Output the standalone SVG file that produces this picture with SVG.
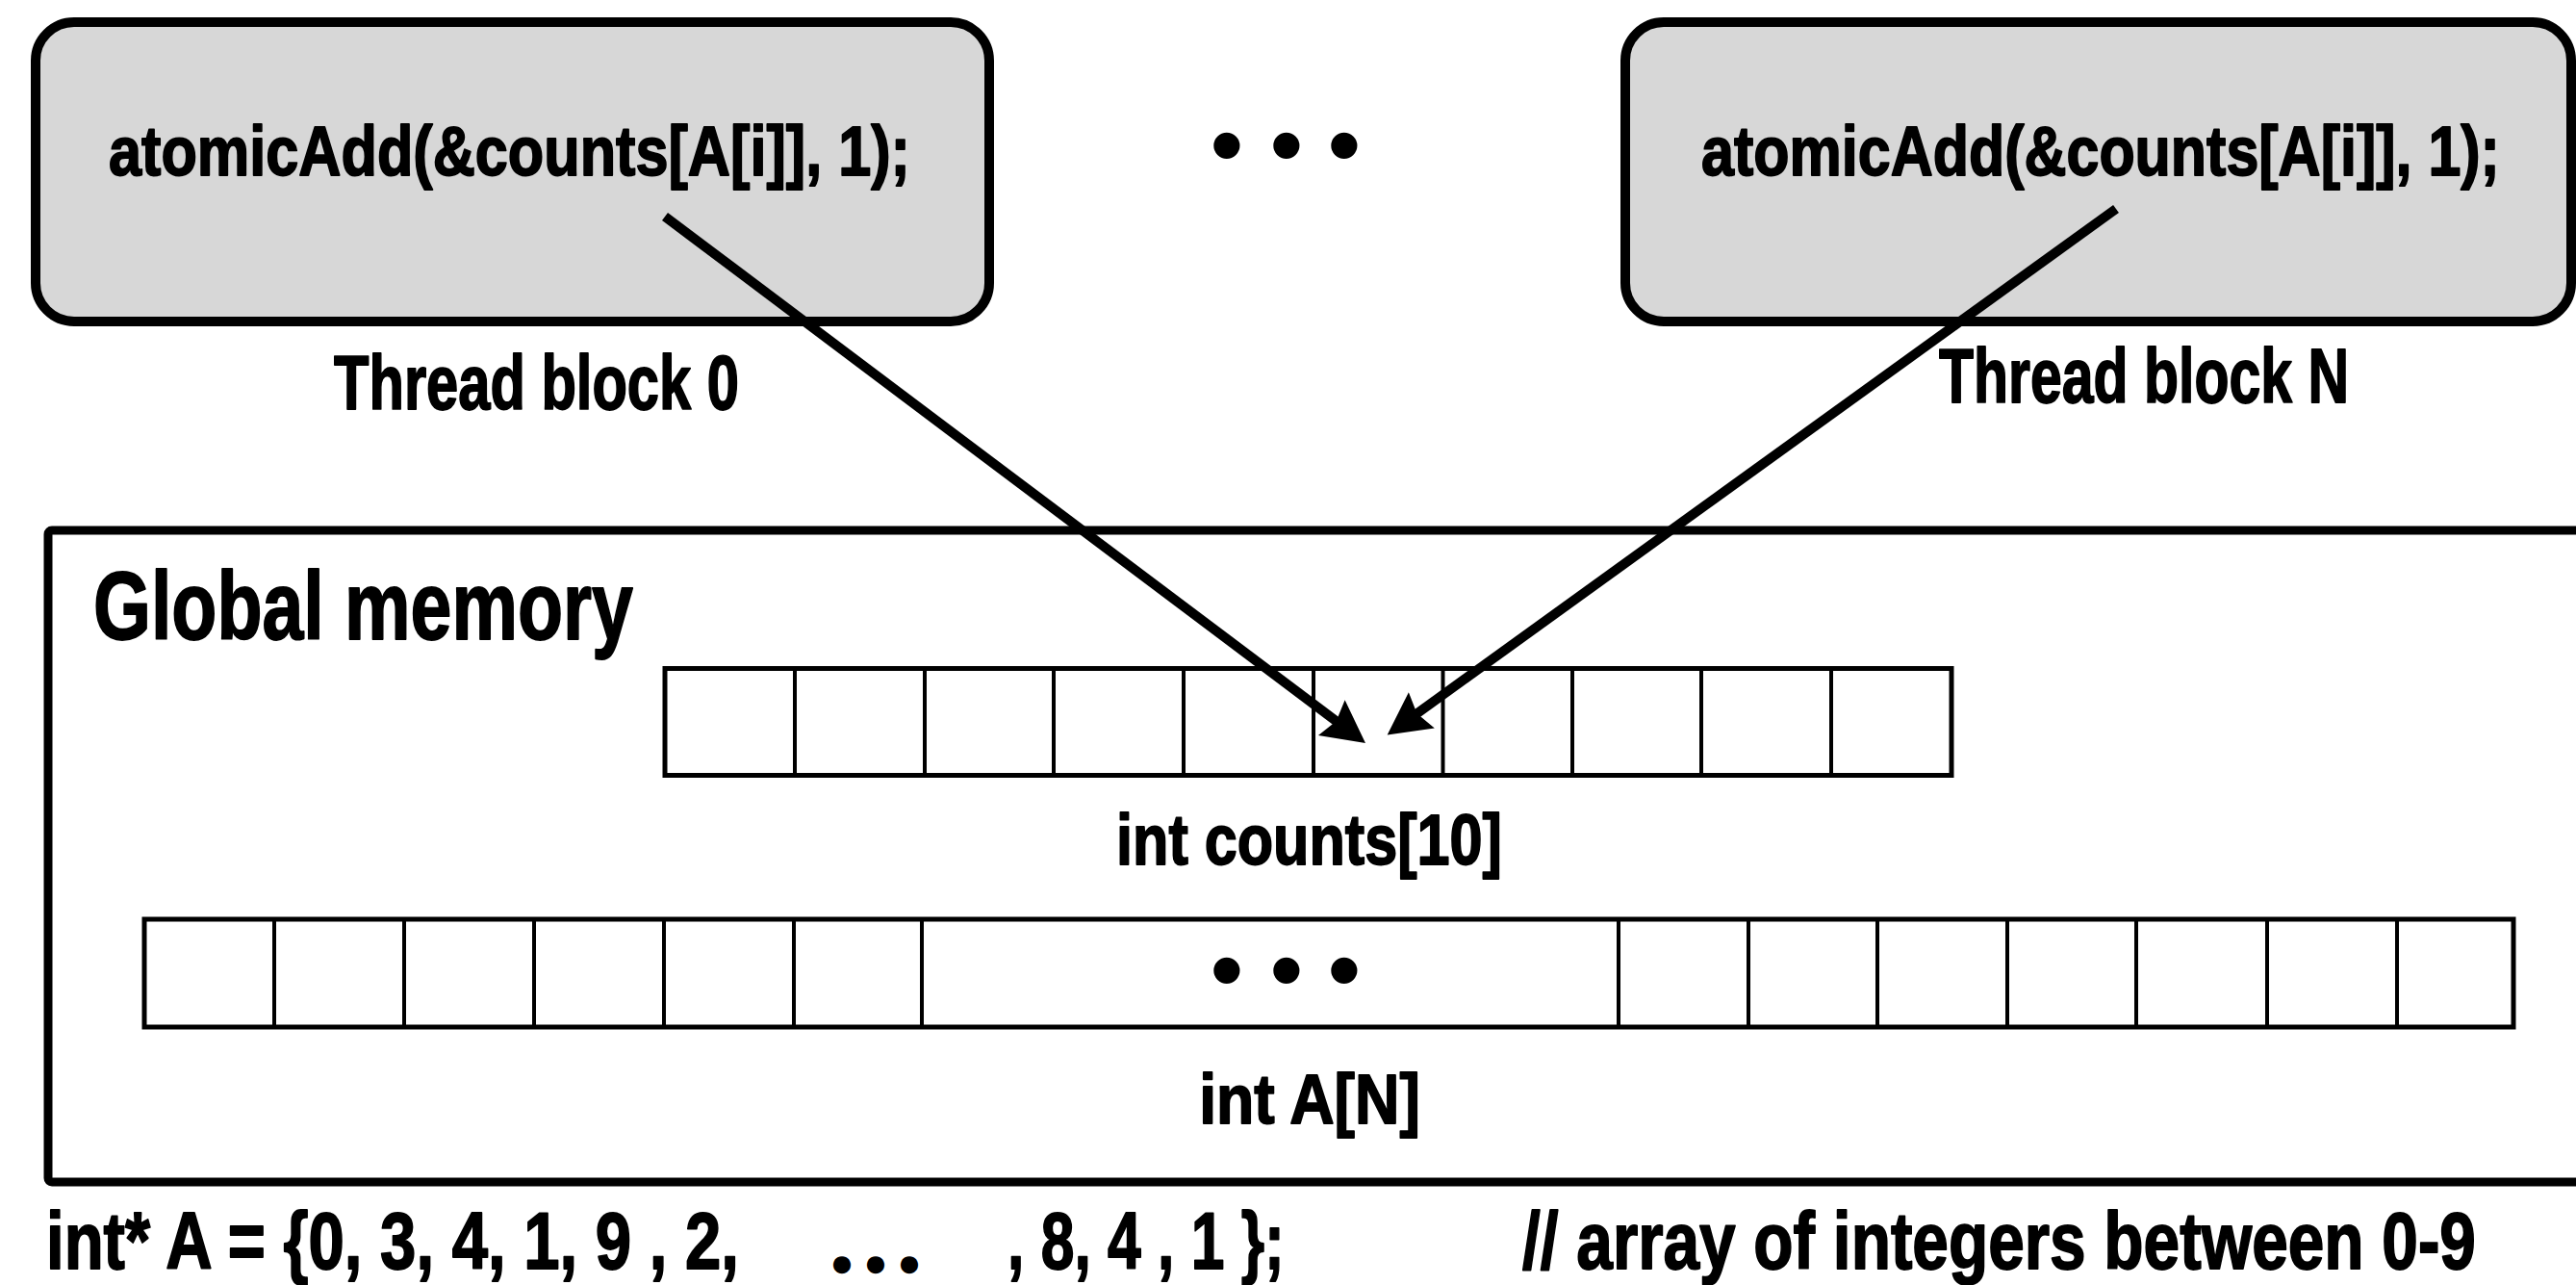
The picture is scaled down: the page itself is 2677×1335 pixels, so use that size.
<svg xmlns="http://www.w3.org/2000/svg" width="2677" height="1335" viewBox="0 0 2677 1335">
<style>
  .t { font-family: "Liberation Sans", Arial, sans-serif; font-weight: bold; fill: #000; stroke: #000; stroke-width: 1.8; stroke-linejoin: round; }
  .d { font-family: "Liberation Sans", Arial, sans-serif; font-weight: bold; fill: #000; }
  .m { text-anchor: middle; }
  .block { fill: #d7d7d7; stroke: #000; stroke-width: 10; }
  .mem { fill: #fff; stroke: #000; stroke-width: 9; }
  .arr { fill: #fff; stroke: #000; stroke-width: 5; }
  .div { stroke: #000; stroke-width: 4; }
  .conn { stroke: #000; stroke-width: 10; fill: none; marker-end: url(#head); }
</style>
<defs>
  <marker id="head" markerUnits="userSpaceOnUse" markerWidth="60" markerHeight="60" viewBox="-20 -30 60 60" refX="0" refY="0" orient="auto" overflow="visible">
    <path d="M-14,-23 L30,0 L-14,23 L-8,0 Z" fill="#000"/>
  </marker>
</defs>
<rect width="2677" height="1335" fill="#fff"/>

<g id="global-memory">
  <rect class="mem" x="50" y="551" width="2700" height="677" rx="4"/>
  <text class="t" transform="translate(97 664) scale(0.7706 1)" x="0" y="0" font-size="100">Global memory</text>
</g>

<g id="thread-block-0">
  <rect class="block" x="37" y="23" width="991" height="311" rx="40"/>
  <text class="t m" transform="translate(529.5 182) scale(0.8501 1)" x="0" y="0" font-size="72">atomicAdd(&amp;counts[A[i]], 1);</text>
  <text class="t m" transform="translate(557.5 425) scale(0.7456 1)" x="0" y="0" font-size="80">Thread block 0</text>
</g>

<g id="ellipsis-top">
  <text class="d m" x="1275 1337 1397" y="183" font-size="95">•••</text>
</g>

<g id="thread-block-N">
  <rect class="block" x="1689" y="23" width="983" height="311" rx="40"/>
  <text class="t m" transform="translate(2183 182) scale(0.847 1)" x="0" y="0" font-size="72">atomicAdd(&amp;counts[A[i]], 1);</text>
  <text class="t m" transform="translate(2228 418) scale(0.7371 1)" x="0" y="0" font-size="80">Thread block N</text>
</g>

<g id="counts-array">
  <rect class="arr" x="691" y="694.5" width="1337" height="111"/>
  <line class="div" x1="826" y1="694" x2="826" y2="806"/>
  <line class="div" x1="961" y1="694" x2="961" y2="806"/>
  <line class="div" x1="1095" y1="694" x2="1095" y2="806"/>
  <line class="div" x1="1230" y1="694" x2="1230" y2="806"/>
  <line class="div" x1="1365" y1="694" x2="1365" y2="806"/>
  <line class="div" x1="1499.5" y1="694" x2="1499.5" y2="806"/>
  <line class="div" x1="1634" y1="694" x2="1634" y2="806"/>
  <line class="div" x1="1768" y1="694" x2="1768" y2="806"/>
  <line class="div" x1="1903" y1="694" x2="1903" y2="806"/>
  <text class="t m" transform="translate(1360.5 898) scale(0.8266 1)" x="0" y="0" font-size="74">int counts[10]</text>
</g>

<g id="A-array">
  <rect class="arr" x="150" y="955" width="2462" height="112"/>
  <line class="div" x1="285" y1="955" x2="285" y2="1067"/>
  <line class="div" x1="420" y1="955" x2="420" y2="1067"/>
  <line class="div" x1="555" y1="955" x2="555" y2="1067"/>
  <line class="div" x1="690" y1="955" x2="690" y2="1067"/>
  <line class="div" x1="825" y1="955" x2="825" y2="1067"/>
  <line class="div" x1="958" y1="955" x2="958" y2="1067"/>
  <line class="div" x1="1682" y1="955" x2="1682" y2="1067"/>
  <line class="div" x1="1817" y1="955" x2="1817" y2="1067"/>
  <line class="div" x1="1951" y1="955" x2="1951" y2="1067"/>
  <line class="div" x1="2086" y1="955" x2="2086" y2="1067"/>
  <line class="div" x1="2220" y1="955" x2="2220" y2="1067"/>
  <line class="div" x1="2356" y1="955" x2="2356" y2="1067"/>
  <line class="div" x1="2491" y1="955" x2="2491" y2="1067"/>
  <text class="d m" x="1275 1337 1397" y="1040" font-size="95">•••</text>
  <text class="t m" transform="translate(1361 1167) scale(0.8804 1)" x="0" y="0" font-size="73">int A[N]</text>
</g>

<g id="code-line">
  <text class="t" transform="translate(48 1318) scale(0.8079 1)" x="0" y="0" font-size="83">int* A = {0, 3, 4, 1, 9 , 2,</text>
  <text class="d m" x="875 910 945" y="1326" font-size="42">●●●</text>
  <text class="t" transform="translate(1047 1318) scale(0.752 1)" x="0" y="0" font-size="83">, 8, 4 , 1 };</text>
  <text class="t m" transform="translate(2077.5 1318) scale(0.8138 1)" x="0" y="0" font-size="83">// array of integers between 0-9</text>
</g>

<g id="connectors">
  <line class="conn" x1="691" y1="225" x2="1395" y2="754"/>
  <line class="conn" x1="2199" y1="217" x2="1466" y2="746"/>
</g>
</svg>
